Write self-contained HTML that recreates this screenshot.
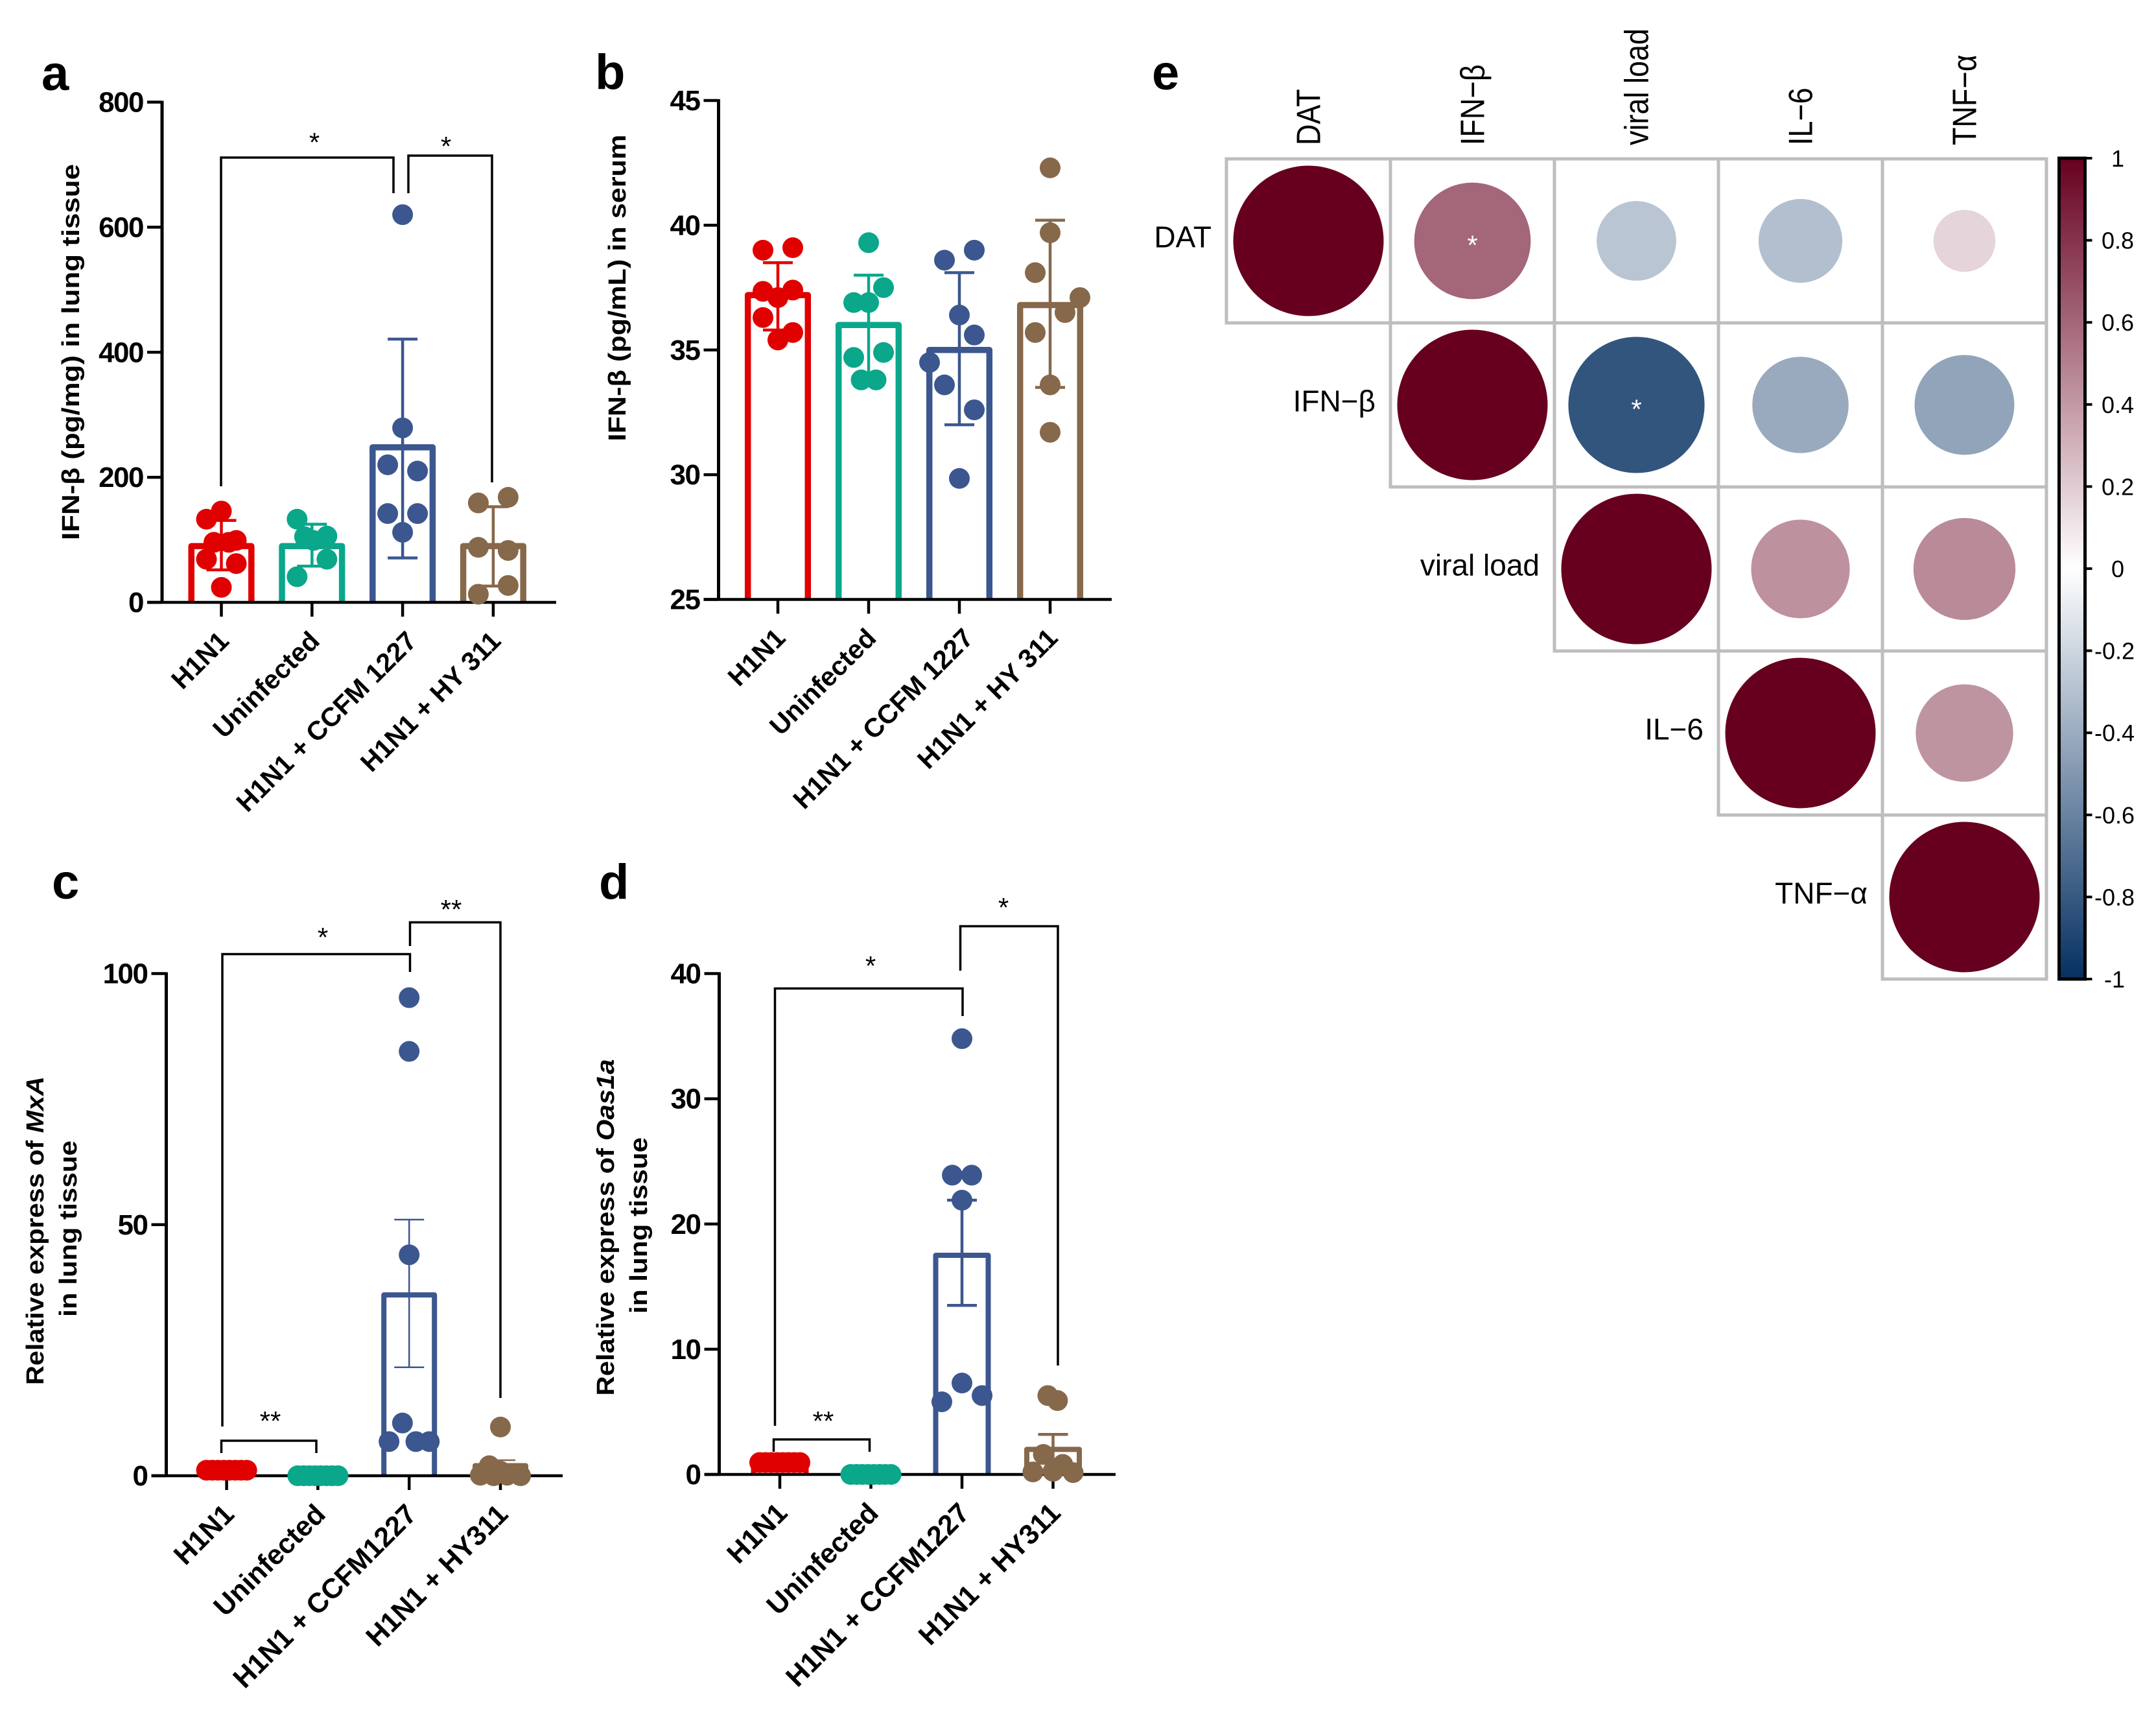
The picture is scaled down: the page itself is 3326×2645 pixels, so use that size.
<!DOCTYPE html>
<html lang="en">
<head>
<meta charset="utf-8">
<title>IFN-β bar charts and correlation matrix</title>
<style>
html,body{margin:0;padding:0;background:#fff;}
svg{display:block;}
text{font-family:"Liberation Sans",sans-serif;fill:#000;}
.panel{font-size:76px;font-weight:bold;}
.ytitle{font-size:38px;font-weight:bold;}
.tick{font-size:44px;font-weight:bold;letter-spacing:-1.5px;}
.xl{font-weight:bold;}
.star{font-size:42px;text-anchor:middle;}
.br{fill:none;stroke:#000;stroke-width:3.5;}
.cl{font-size:45px;}
.rl{font-size:46px;text-anchor:end;}
.cb{font-size:36px;text-anchor:middle;}
</style>
</head>
<body>
<svg id="fig" xmlns="http://www.w3.org/2000/svg" width="3326" height="2645" viewBox="0 0 3326 2645">
<rect width="3326" height="2645" fill="#fff"/>

<text class="panel" x="64" y="139">a</text>
<text class="panel" x="918" y="137">b</text>
<text class="panel" x="80" y="1386">c</text>
<text class="panel" x="924" y="1386">d</text>
<text class="panel" x="1777" y="138">e</text>

<text class="ytitle" text-anchor="middle" transform="translate(122,543) rotate(-90)" textLength="580" lengthAdjust="spacingAndGlyphs">IFN-β (pg/mg) in lung tissue</text>
<text class="ytitle" text-anchor="middle" transform="translate(965,444) rotate(-90)" textLength="473" lengthAdjust="spacingAndGlyphs">IFN-β (pg/mL) in serum</text>
<text class="ytitle" text-anchor="middle" transform="translate(67,1898) rotate(-90)" textLength="476" lengthAdjust="spacingAndGlyphs">Relative express of <tspan font-style="italic">MxA</tspan></text>
<text class="ytitle" text-anchor="middle" transform="translate(118,1895) rotate(-90)" textLength="272" lengthAdjust="spacingAndGlyphs">in lung tissue</text>
<text class="ytitle" text-anchor="middle" transform="translate(947,1893) rotate(-90)" textLength="519" lengthAdjust="spacingAndGlyphs">Relative express of <tspan font-style="italic">Oas1a</tspan></text>
<text class="ytitle" text-anchor="middle" transform="translate(998,1890) rotate(-90)" textLength="272" lengthAdjust="spacingAndGlyphs">in lung tissue</text>

<g id="charts"></g>

<g>
<path class="br" d="M341 750V243H607V298"/>
<path class="br" d="M630 298V240H759V744"/>
<text class="star" x="485" y="234">*</text>
<text class="star" x="688" y="240">*</text>
<path class="br" d="M343 2200V1471.500H632.500V1499"/>
<path class="br" d="M632.500 1459V1422.500H772V2156"/>
<path class="br" d="M341.500 2241V2222H488V2241"/>
<text class="star" x="498" y="1460">*</text>
<text class="star" x="696" y="1417">**</text>
<text class="star" x="417" y="2206">**</text>
<path class="br" d="M1195.500 2199V1524.500H1485V1567"/>
<path class="br" d="M1481.500 1497V1428.500H1632V2106"/>
<path class="br" d="M1193.500 2239V2220H1341.500V2239"/>
<text class="star" x="1343" y="1504">*</text>
<text class="star" x="1548" y="1414">*</text>
<text class="star" x="1270" y="2206">**</text>
</g>

<g id="corr"></g>
<g id="cbar"></g>
<defs>
<linearGradient id="cbGrad" x1="0" y1="0" x2="0" y2="1">
<stop offset="0" stop-color="#67001f"/>
<stop offset="0.5" stop-color="#ffffff"/>
<stop offset="1" stop-color="#053061"/>
</linearGradient>
</defs>
</svg>

<script>
// ---------- shared categories ----------
const groupNamesTop = ['H1N1', 'Uninfected', 'H1N1 + CCFM 1227', 'H1N1 + HY 311'];
const groupNamesBottom = ['H1N1', 'Uninfected', 'H1N1 + CCFM1227', 'H1N1 + HY311'];
const groupColors = ['#e00000', '#0aa78b', '#3c578f', '#86684b'];

// ---------- panel a ----------
const aTicks = [0, 200, 400, 600, 800];
const aMeans = [90, 90, 248, 90];
const aErrHigh = [131, 125, 421, 153];
const aErrLow = [52, 58, 71, 26];
const aDots = [
  [146, 133, 96, 96, 99, 69, 62, 24],
  [133, 105, 106, 99, 69, 41],
  [620, 279, 220, 210, 142, 142, 112],
  [159, 168, 88, 83, 27, 13]
];
const aSwarm = [
  [0, -1, -0.5, 0.5, 1, -1, 1, 0],
  [-1, -0.5, 1, 0.1, 1, -1],
  [0, 0, -1, 1, -1, 1, 0],
  [-1, 1, -1, 1, 1, -1]
];

// ---------- panel b ----------
const bTicks = [25, 30, 35, 40, 45];
const bMeans = [37.2, 36, 35, 36.8];
const bErrHigh = [38.5, 38, 38.1, 40.2];
const bErrLow = [35.8, 34, 32, 33.5];
const bDots = [
  [39.0, 39.1, 37.35, 37.4, 37.1, 36.3, 35.7, 35.4],
  [39.3, 37.5, 36.9, 36.9, 34.7, 34.9, 33.8, 33.8],
  [39.0, 38.6, 36.4, 35.6, 34.5, 33.6, 32.6, 29.85],
  [42.3, 39.7, 38.1, 37.1, 36.5, 35.7, 33.6, 31.7]
];
const bSwarm = [
  [-1, 1, -1, 1, 0, -1, 1, 0],
  [0, 1, -1, 0, -1, 1, -0.5, 0.5],
  [1, -1, 0, 1, -2, -1, 1, 0],
  [0, 0, -1, 2, 1, -1, 0, 0]
];

// ---------- panel c ----------
const cTicks = [0, 50, 100];
const cMeans = [1, 0.1, 36, 2];
const cErrHigh = [1.2, 0.2, 51, 3.1];
const cErrLow = [0.9, 0, 21.6, 0.9];
const cDots = [
  [1.1, 1.1, 1.1, 1.1, 1.1, 1.1, 1.1, 1.1],
  [0, 0, 0, 0, 0, 0, 0, 0],
  [95.2, 84.5, 44, 10.5, 6.8, 6.8, 6.8],
  [9.7, 2, 0.1, 0, 0.9, 0.1, 0]
];
const cSwarm = [
  [-1.35, -0.96, -0.58, -0.19, 0.19, 0.58, 0.96, 1.35],
  [-1.35, -0.96, -0.58, -0.19, 0.19, 0.58, 0.96, 1.35],
  [0, 0, 0, -0.45, -1.35, 0.45, 1.35],
  [0, -0.75, -1.35, -0.45, 0, 0.45, 1.35]
];

// ---------- panel d ----------
const dTicks = [0, 10, 20, 30, 40];
const dMeans = [1.15, 0.1, 17.5, 2];
const dErrHigh = [1.2, 0.2, 21.9, 3.2];
const dErrLow = [0.9, 0, 13.5, 0.9];
const dDots = [
  [0.95, 0.95, 0.95, 0.95, 0.95, 0.95, 0.95, 0.95],
  [0, 0, 0, 0, 0, 0, 0, 0],
  [34.8, 23.9, 23.9, 21.9, 7.3, 5.8, 6.3],
  [6.3, 5.9, 1.6, 0.8, 0.2, 0.25, 0.15]
];
const dSwarm = [
  [-1.35, -0.96, -0.58, -0.19, 0.19, 0.58, 0.96, 1.35],
  [-1.35, -0.96, -0.58, -0.19, 0.19, 0.58, 0.96, 1.35],
  [0, -0.65, 0.65, 0, 0, -1.35, 1.35],
  [-0.35, 0.3, -0.65, 0.65, -1.35, 0, 1.35]
];

// ---------- panel e ----------
const corrLabels = ['DAT', 'IFN−β', 'viral load', 'IL−6', 'TNF−α'];
const corrRow0 = [1, 0.6, -0.28, -0.31, 0.17];
const corrRow1 = [1, -0.82, -0.41, -0.44];
const corrRow2 = [1, 0.43, 0.46];
const corrRow3 = [1, 0.42];
const corrRow4 = [1];
const corrSigRow0 = [0, 1, 0, 0, 0];
const corrSigRow1 = [0, 1, 0, 0];
const colorbarTicks = [1, 0.8, 0.6, 0.4, 0.2, 0, -0.2, -0.4, -0.6, -0.8, -1];

const NS = 'http://www.w3.org/2000/svg';
function mk(tag, attrs, parent) {
  const el = document.createElementNS(NS, tag);
  for (const k in attrs) el.setAttribute(k, attrs[k]);
  parent.appendChild(el);
  return el;
}

function drawBarPanel(p, cfg, names, ticks, means, errHigh, errLow, dots, swarm) {
  const yScale = v => cfg.yZero + (v - ticks[0]) / (ticks[ticks.length - 1] - ticks[0]) * (cfg.yTop - cfg.yZero);
  const xScale = i => cfg.xFirst + i * cfg.xStep;
  const g = mk('g', {}, p);
  
  

  // bars
  means.forEach((m, i) => {
    const x = xScale(i), y = yScale(m), y0 = yScale(ticks[0]);
    const bar = mk('path', {
      d: 'M' + (x - cfg.barHalf) + ' ' + y0 + 'V' + y + 'H' + (x + cfg.barHalf) + 'V' + y0,
      fill: 'none', stroke: groupColors[i], 'stroke-width': cfg.barStroke, 'stroke-linejoin': 'round'
    }, g);
    
    
  });

  // axes
  const yAxis = mk('line', { x1: cfg.xAxis, x2: cfg.xAxis, y1: cfg.yTop - 2, y2: cfg.yZero + 2, stroke: '#000', 'stroke-width': 5 }, g);
  
  
  const xAxis = mk('line', { x1: cfg.xAxis - 23, x2: cfg.xEnd, y1: cfg.yZero, y2: cfg.yZero, stroke: '#000', 'stroke-width': 4.5 }, g);
  
  

  ticks.forEach(t => {
    const y = yScale(t);
    const tk = mk('line', { x1: cfg.xAxis - 23, x2: cfg.xAxis, y1: y, y2: y, stroke: '#000', 'stroke-width': 4.5 }, g);
    
    
    const lb = mk('text', { x: cfg.xAxis - 29, y: y + 15, 'text-anchor': 'end', class: 'tick' }, g);
    
    
    lb.textContent = t;
  });

  names.forEach((name, i) => {
    const x = xScale(i);
    const tk = mk('line', { x1: x, x2: x, y1: cfg.yZero, y2: cfg.yZero + 22, stroke: '#000', 'stroke-width': 4.5 }, g);
    
    
    const shift = cfg.labelShift[i];
    const lb = mk('text', { class: 'xl', 'font-size': cfg.labelSize, 'text-anchor': 'end', transform: 'translate(' + (x + 14 + shift) + ',' + (cfg.yZero + 62) + ') rotate(-45)' }, g);
    
    
    lb.textContent = name;
  });

  // error bars
  means.forEach((m, i) => {
    const x = xScale(i), yh = yScale(errHigh[i]), yl = yScale(errLow[i]);
    const e = mk('path', {
      d: 'M' + x + ' ' + yh + 'V' + yl + 'M' + (x - 23) + ' ' + yh + 'H' + (x + 23) + 'M' + (x - 23) + ' ' + yl + 'H' + (x + 23),
      fill: 'none', stroke: groupColors[i], 'stroke-width': cfg.errStroke
    }, g);
    
    
  });

  // points
  dots.forEach((vals, i) => {
    vals.forEach((v, k) => {
      const c = mk('circle', { cx: xScale(i) + swarm[i][k] * 23, cy: yScale(v), r: 16, fill: groupColors[i] }, g);
      
      
    });
  });
}

const charts = document.getElementById('charts');
drawBarPanel(charts, { id: 'a', xAxis: 250, xEnd: 858, yZero: 929, yTop: 157.5, xFirst: 341.5, xStep: 139.8, barHalf: 46.3, barStroke: 9.5, errStroke: 4.5, labelSize: 41, labelShift: [0, 0, 10, 0] }, groupNamesTop, aTicks, aMeans, aErrHigh, aErrLow, aDots, aSwarm);
drawBarPanel(charts, { id: 'b', xAxis: 1108.5, xEnd: 1715, yZero: 924.5, yTop: 155, xFirst: 1200, xStep: 140, barHalf: 46.3, barStroke: 9.5, errStroke: 4.5, labelSize: 41, labelShift: [0, 0, 10, 0] }, groupNamesTop, bTicks, bMeans, bErrHigh, bErrLow, bDots, bSwarm);
drawBarPanel(charts, { id: 'c', xAxis: 256.5, xEnd: 868, yZero: 2276, yTop: 1501.5, xFirst: 349.6, xStep: 140.8, barHalf: 39, barStroke: 8, errStroke: 2.5, labelSize: 43, labelShift: [0, 0, 0, 0] }, groupNamesBottom, cTicks, cMeans, cErrHigh, cErrLow, cDots, cSwarm);
drawBarPanel(charts, { id: 'd', xAxis: 1109.5, xEnd: 1721, yZero: 2274, yTop: 1501.5, xFirst: 1203, xStep: 140.5, barHalf: 40.5, barStroke: 8, errStroke: 4.5, labelSize: 43, labelShift: [0, 0, 0, 0] }, groupNamesBottom, dTicks, dMeans, dErrHigh, dErrLow, dDots, dSwarm);

// ---------- correlation matrix ----------
const corrRows = [corrRow0, corrRow1, corrRow2, corrRow3, corrRow4];
const corrSigRows = [corrSigRow0, corrSigRow1, [], [], []];
const CELL = 253, GX = 1892, GY = 245, RMAX = 116;
function corrColor(v) {
  const end = v >= 0 ? [103, 0, 31] : [5, 48, 97];
  const t = Math.abs(v);
  const ch = end.map(e => Math.round(255 + (e - 255) * t));
  return 'rgb(' + ch.join(',') + ')';
}
const corr = document.getElementById('corr');
corrLabels.forEach((name, j) => {
  const cx = GX + CELL * j + CELL / 2;
  const t = mk('text', { class: 'cl', transform: 'translate(' + (cx + 18) + ',224) rotate(-90) scale(1,1.15)' }, corr);
  
  
  t.textContent = name;
});
corrRows.forEach((row, i) => {
  const left = GX + CELL * i;
  const rowY = GY + CELL * i + CELL / 2;
  const t = mk('text', { class: 'rl', x: left - 23, y: rowY + 10 }, corr);
  
  
  t.textContent = corrLabels[i];
  row.forEach((v, k) => {
    const j = i + k;
    const cell = mk('rect', { x: GX + CELL * j, y: GY + CELL * i, width: CELL, height: CELL, fill: '#fff', stroke: '#bebebe', 'stroke-width': 5 }, corr);
    
    
  });
});
corrRows.forEach((row, i) => {
  row.forEach((v, k) => {
    const j = i + k;
    const cx = GX + CELL * j + CELL / 2, cy = GY + CELL * i + CELL / 2;
    const c = mk('circle', { cx: cx, cy: cy, r: RMAX * Math.sqrt(Math.abs(v)), fill: corrColor(v) }, corr);
    
    
    if (corrSigRows[i][k]) {
      const s = mk('text', { x: cx, y: cy + 21, class: 'star', style: 'fill:#fff' }, corr);
      
      
      s.textContent = '*';
    }
  });
});

// ---------- colorbar ----------
const cbar = document.getElementById('cbar');
const CB_TOP = 244, CB_BOTTOM = 1510, CB_L = 3176.5, CB_R = 3216.5;
const cbY = v => CB_TOP + (1 - v) / 2 * (CB_BOTTOM - CB_TOP);
const cbFill = mk('rect', { x: CB_L, y: CB_TOP, width: CB_R - CB_L, height: CB_BOTTOM - CB_TOP, fill: 'url(#cbGrad)', stroke: '#000', 'stroke-width': 5 }, cbar);


colorbarTicks.forEach(v => {
  const y = cbY(v);
  const tk = mk('line', { x1: CB_R, x2: CB_R + 11, y1: y, y2: y, stroke: '#000', 'stroke-width': 4 }, cbar);
  
  
  const lb = mk('text', { x: v < 0 ? 3262 : 3267, y: y + 13, class: 'cb' }, cbar);
  
  
  lb.textContent = v;
});
</script>
</body>
</html>
